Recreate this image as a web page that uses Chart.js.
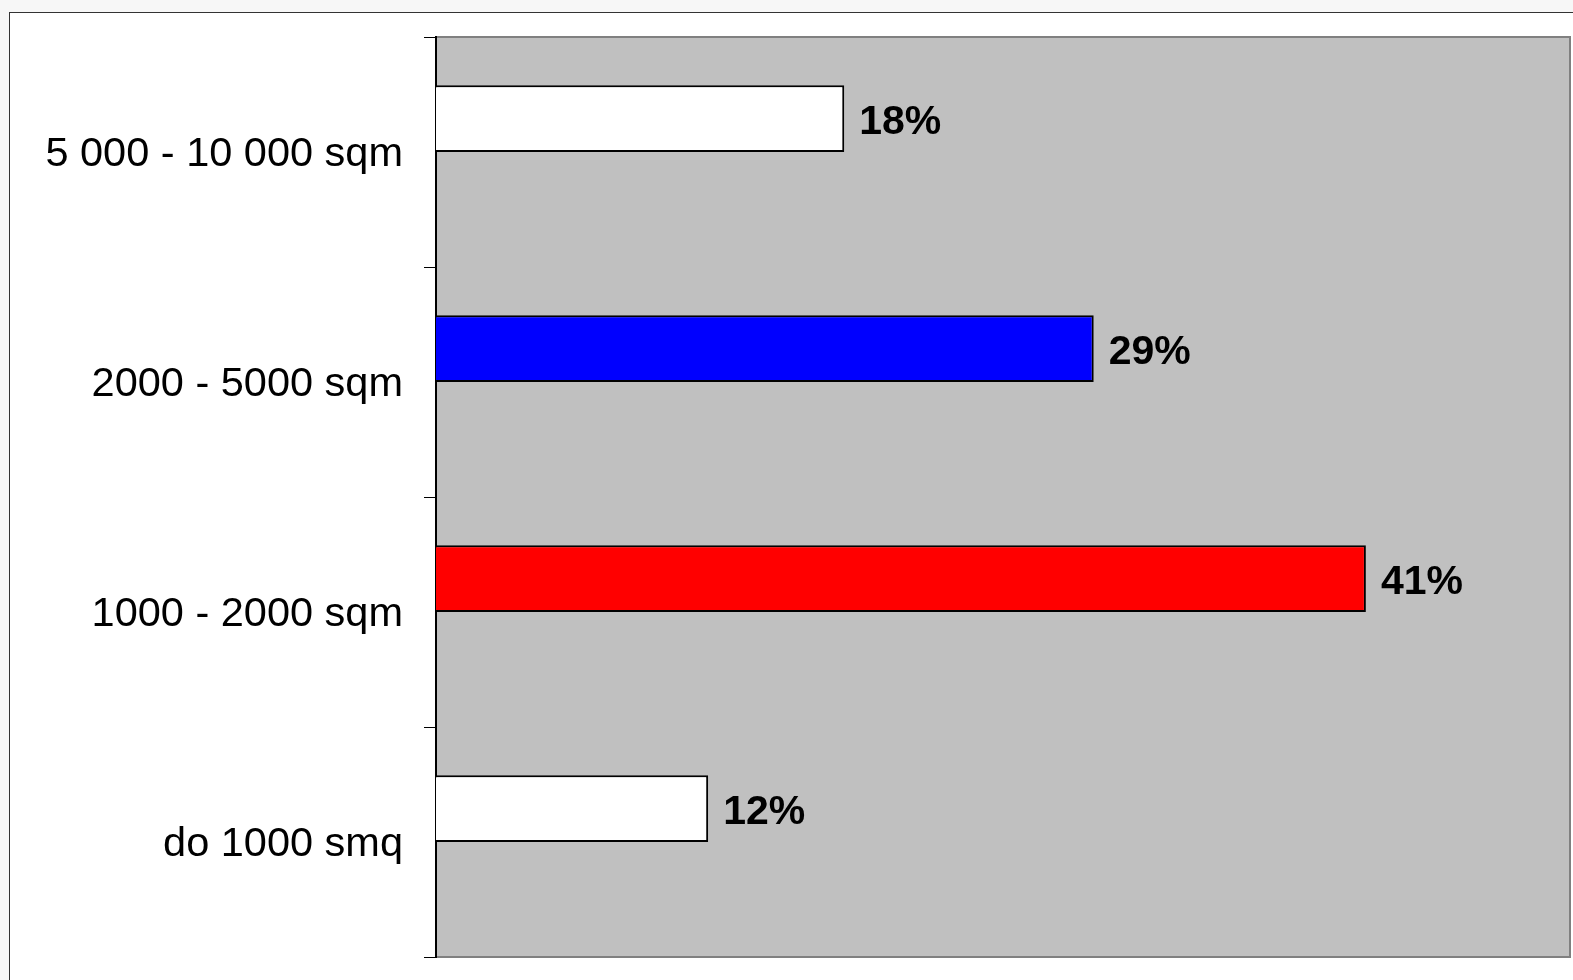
<!DOCTYPE html>
<html>
<head>
<meta charset="utf-8">
<script src="https://cdn.jsdelivr.net/npm/chart.js@4"></script>
<style>
  html, body { margin: 0; padding: 0; background: #f7f7f7; overflow: hidden; }
  #frame {
    position: absolute; left: 9px; top: 12px;
    width: 1600px; height: 1000px;
    background: #fff; border: 1px solid #333;
  }
  #chart { position: absolute; left: 0; top: 0; }
</style>
</head>
<body>
<div id="frame"></div>
<canvas id="chart" width="1573" height="980"></canvas>
<script>
const categories = ["5 000 - 10 000 sqm", "2000 - 5000 sqm", "1000 - 2000 sqm", "do 1000 smq"];
const shares = [18, 29, 41, 12];
const emptySlot = [null, null, null, null];
const barColors = ["#ffffff", "#0000ff", "#ff0000", "#ffffff"];
const axisMax = 50;

// grey plot area with a grey frame, like the old spreadsheet chart
const plotBackground = {
  id: "plotBackground",
  beforeDraw(chart) {
    const { ctx, chartArea: a } = chart;
    ctx.save();
    ctx.fillStyle = "#c0c0c0";
    ctx.fillRect(a.left, a.top, a.right - a.left, a.bottom - a.top);
    ctx.strokeStyle = "#808080";
    ctx.lineWidth = 2;
    ctx.strokeRect(a.left, a.top, a.right - a.left, a.bottom - a.top);
    ctx.restore();
  },
};

const valueLabels = {
  id: "valueLabels",
  afterDatasetsDraw(chart) {
    const { ctx } = chart;
    const meta = chart.getDatasetMeta(0);
    ctx.save();
    ctx.font = "bold 41px 'Liberation Sans', Arial, sans-serif";
    ctx.fillStyle = "#000";
    ctx.textAlign = "left";
    ctx.textBaseline = "middle";
    meta.data.forEach((bar, i) => {
      ctx.fillText(shares[i] + "%", bar.x + 15, bar.y + 4);
    });
    ctx.restore();
  },
};

new Chart(document.getElementById("chart"), {
  type: "bar",
  data: {
    labels: categories,
    datasets: [
      {
        data: shares,
        backgroundColor: barColors,
        borderColor: "#000",
        borderWidth: 2,
        categoryPercentage: 0.58,
        barPercentage: 1,
      },
      {
        data: emptySlot,
        categoryPercentage: 0.58,
        barPercentage: 1,
      },
    ],
  },
  options: {
    indexAxis: "y",
    responsive: false,
    animation: false,
    devicePixelRatio: 1,
    layout: { padding: { top: 37, right: 3, bottom: 23, left: 0 } },
    plugins: {
      legend: { display: false },
      tooltip: { enabled: false },
    },
    scales: {
      x: {
        display: false,
        min: 0,
        max: axisMax,
      },
      y: {
        afterFit(scale) {
          scale.width = 436;
          scale.paddingTop = 0;
          scale.paddingBottom = 0;
        },
        grid: {
          drawOnChartArea: false,
          drawTicks: true,
          tickLength: 12,
          color: "#000",
          lineWidth: 1,
        },
        border: { color: "#000", width: 2 },
        ticks: {
          color: "#000",
          padding: 21,
          labelOffset: 3,
          font: { family: "'Liberation Sans', Arial, sans-serif", size: 41.5 },
        },
      },
    },
  },
  plugins: [plotBackground, valueLabels],
});
</script>
</body>
</html>
